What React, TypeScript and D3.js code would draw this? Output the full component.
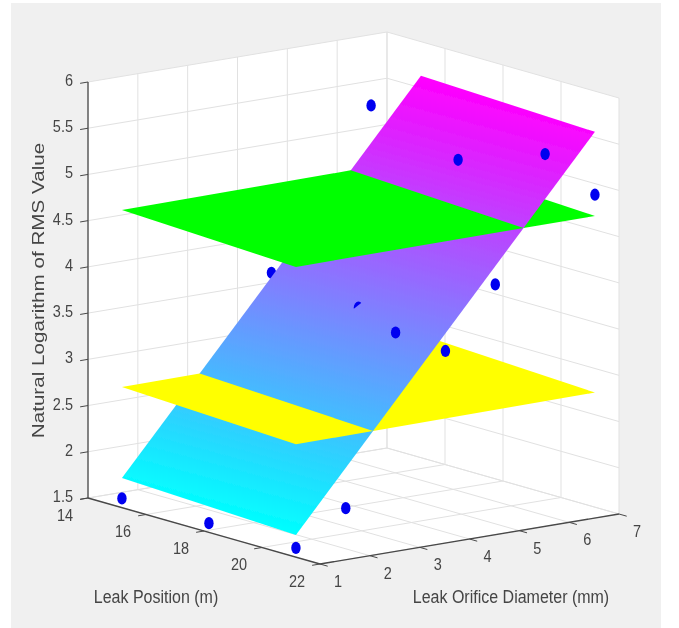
import * as d3 from "d3";

const xTicks = [14, 16, 18, 20, 22];
const yTicks = [1, 2, 3, 4, 5, 6, 7];
const zTicks = [1.5, 2, 2.5, 3, 3.5, 4, 4.5, 5, 5.5, 6];

// measured points: leak position, orifice diameter, ln(RMS)
const pointX = [15.17, 15.17, 15.17, 18.17, 18.17, 18.17, 21.17, 21.17, 21.17, 21.17, 21.17, 21.17, 21.17];
const pointY = [1, 4, 6, 1, 4, 6, 1, 2, 3, 4, 5, 6, 7];
const pointZ = [1.6, 3.77, 5.4, 1.6, 3.66, 5.08, 1.6, 1.94, 3.75, 3.46, 4.09, 5.41, 4.88];
const behindSurface = [false, true, false, false, true, false, false, false, false, false, false, false, false];

// fitted planes, corner heights: [x0y0, x1y0, x0y1, x1y1]
const planeX = [15.17, 21.17];
const planeY = [1, 7];
const fitZ = [1.82, 1.74, 5.63, 5.56];
const upperZ = [4.72, 4.64, 4.74, 4.65];
const lowerZ = [2.805, 2.72, 2.83, 2.74];

const xDomain: [number, number] = [14, 22];
const yDomain: [number, number] = [1, 7];
const zDomain: [number, number] = [1.5, 6];

// the axes box is an orthographic view, so each data axis maps linearly to screen
const originX = 88;
const originY = 498;
const xToLeft = d3.scaleLinear().domain(xDomain).range([0, 232]);
const xToTop = d3.scaleLinear().domain(xDomain).range([0, 66]);
const yToLeft = d3.scaleLinear().domain(yDomain).range([0, 299]);
const yToTop = d3.scaleLinear().domain(yDomain).range([0, -50]);
const zToTop = d3.scaleLinear().domain(zDomain).range([0, -416]);

type P = [number, number];

function project(x: number, y: number, z: number): P {
  return [originX + xToLeft(x) + yToLeft(y), originY + xToTop(x) + yToTop(y) + zToTop(z)];
}

function planeAt(c: number[]) {
  const tx = d3.scaleLinear().domain(planeX).range([0, 1]);
  const ty = d3.scaleLinear().domain(planeY).range([0, 1]);
  return (x: number, y: number) => {
    const a = tx(x);
    const b = ty(y);
    return (c[0] * (1 - a) + c[1] * a) * (1 - b) + (c[2] * (1 - a) + c[3] * a) * b;
  };
}

const fitPlane = planeAt(fitZ);
const upperPlane = planeAt(upperZ);
const lowerPlane = planeAt(lowerZ);

const planeCorners: P[] = [
  [planeX[0], planeY[0]],
  [planeX[1], planeY[0]],
  [planeX[1], planeY[1]],
  [planeX[0], planeY[1]],
];

// keep the part of the plane footprint where f >= 0
function clipFootprint(poly: P[], f: (x: number, y: number) => number): P[] {
  const out: P[] = [];
  poly.forEach((p, i) => {
    const q = poly[(i + 1) % poly.length];
    const fp = f(p[0], p[1]);
    const fq = f(q[0], q[1]);
    if (fp >= 0) out.push(p);
    if (fp >= 0 !== fq >= 0) {
      const t = fp / (fp - fq);
      out.push([p[0] + (q[0] - p[0]) * t, p[1] + (q[1] - p[1]) * t]);
    }
  });
  return out;
}

const outline = d3.line().curve(d3.curveLinearClosed);
const planePath = (poly: P[], plane: (x: number, y: number) => number) =>
  outline(poly.map(([x, y]) => project(x, y, plane(x, y)))) ?? "";

function gradientEnds() {
  const p0 = project(planeX[0], planeY[0], fitZ[0]);
  const px = project(planeX[1], planeY[0], fitZ[1]);
  const py = project(planeX[0], planeY[1], fitZ[2]);
  const zx = fitZ[1] - fitZ[0];
  const zy = fitZ[2] - fitZ[0];
  const ux = px[0] - p0[0], uy = px[1] - p0[1];
  const vx = py[0] - p0[0], vy = py[1] - p0[1];
  const det = ux * vy - uy * vx;
  const gx = (zx * vy - zy * uy) / det;
  const gy = (ux * zy - vx * zx) / det;
  const len2 = gx * gx + gy * gy;
  const zMin = d3.min(fitZ) as number;
  const zMax = d3.max(fitZ) as number;
  const start: P = [p0[0] + (gx * (zMin - fitZ[0])) / len2, p0[1] + (gy * (zMin - fitZ[0])) / len2];
  const end: P = [start[0] + (gx * (zMax - zMin)) / len2, start[1] + (gy * (zMax - zMin)) / len2];
  return { start, end };
}

const gridColor = "#e1e1e1";
const axisColor = "#484848";
const textColor = "#454545";
const font = "'Liberation Sans', Arial, sans-serif";
const markRx = 4.7;
const markRy = 6.1;

function GridLine({ a, b }: { a: P; b: P }) {
  return <line x1={a[0]} y1={a[1]} x2={b[0]} y2={b[1]} stroke={gridColor} strokeWidth={1} />;
}

function Dot({ i, clipPath }: { i: number; clipPath?: string }) {
  const [cx, cy] = project(pointX[i], pointY[i], pointZ[i]);
  return <ellipse cx={cx} cy={cy} rx={markRx} ry={markRy} fill="#0000f0" clipPath={clipPath} />;
}

// the source picture is stretched vertically, so text is too
function Label({ x, y, size, stretch, children }: { x: number; y: number; size: number; stretch: number; children: any }) {
  return (
    <text
      transform={`translate(${x},${y}) scale(1,${stretch})`}
      fontSize={size}
      textAnchor="middle"
      dominantBaseline="central"
    >
      {children}
    </text>
  );
}

export default function App() {
  const [x0, x1] = xDomain;
  const [y0, y1] = yDomain;
  const [z0, z1] = zDomain;
  const { start, end } = gradientEnds();
  const ids = d3.range(pointX.length);
  const sliver = project(pointX[4], pointY[4], pointZ[4]);

  const tickY = (x: number, z: number) => {
    const a = project(x, y0, z);
    const k = 8 / 304;
    return { a, b: [a[0] - yToLeft(y1) * k, a[1] - yToTop(y1) * k] as P };
  };
  const tickX = (y: number) => {
    const a = project(x1, y, z0);
    const k = 8 / 241;
    return { a, b: [a[0] + xToLeft(x1) * k, a[1] + xToTop(x1) * k] as P };
  };

  return (
    <svg
      width={679}
      height={628}
      style={{ position: "fixed", left: 0, top: 0, display: "block" }}
      fontFamily={font}
    >
      <defs>
        <linearGradient id="cool" gradientUnits="userSpaceOnUse" x1={start[0]} y1={start[1]} x2={end[0]} y2={end[1]}>
          <stop offset="0" stopColor={d3.rgb(0, 255, 255).formatHex()} />
          <stop offset="1" stopColor={d3.rgb(255, 0, 255).formatHex()} />
        </linearGradient>
        <clipPath id="sliver">
          <rect
            x={sliver[0] - 12}
            y={sliver[1] - 12}
            width={24}
            height={10}
            transform={`rotate(-38 ${sliver[0]} ${sliver[1]})`}
          />
        </clipPath>
        <filter id="soft" x="-5%" y="-5%" width="110%" height="110%">
          <feGaussianBlur stdDeviation={0.45} />
        </filter>
      </defs>

      <rect x={11} y={3} width={650} height={625} fill="#f0f0f0" />

      <g filter="url(#soft)">
        <path
          d={
            outline([
              project(x0, y0, z0),
              project(x0, y0, z1),
              project(x0, y1, z1),
              project(x1, y1, z1),
              project(x1, y1, z0),
              project(x1, y0, z0),
            ] as P[]) ?? ""
          }
          fill="#fff"
        />

        {/* grid on the two back walls and the floor */}
        {zTicks.map((z) => (
          <g key={z}>
            <GridLine a={project(x0, y0, z)} b={project(x0, y1, z)} />
            <GridLine a={project(x0, y1, z)} b={project(x1, y1, z)} />
          </g>
        ))}
        {yTicks.map((y) => (
          <g key={y}>
            <GridLine a={project(x0, y, z0)} b={project(x0, y, z1)} />
            <GridLine a={project(x0, y, z0)} b={project(x1, y, z0)} />
          </g>
        ))}
        {xTicks.map((x) => (
          <g key={x}>
            <GridLine a={project(x, y1, z0)} b={project(x, y1, z1)} />
            <GridLine a={project(x, y0, z0)} b={project(x, y1, z0)} />
          </g>
        ))}

        {/* axes */}
        {[
          [project(x0, y0, z0), project(x0, y0, z1)],
          [project(x0, y0, z0), project(x1, y0, z0)],
          [project(x1, y0, z0), project(x1, y1, z0)],
        ].map(([a, b], i) => (
          <line key={i} x1={a[0]} y1={a[1]} x2={b[0]} y2={b[1]} stroke={axisColor} strokeWidth={1.3} />
        ))}
        {zTicks.map((z) => {
          const { a, b } = tickY(x0, z);
          return <line key={z} x1={a[0]} y1={a[1]} x2={b[0]} y2={b[1]} stroke={axisColor} strokeWidth={1} />;
        })}
        {xTicks.map((x) => {
          const { a, b } = tickY(x, z0);
          return <line key={x} x1={a[0]} y1={a[1]} x2={b[0]} y2={b[1]} stroke={axisColor} strokeWidth={1} />;
        })}
        {yTicks.map((y) => {
          const { a, b } = tickX(y);
          return <line key={y} x1={a[0]} y1={a[1]} x2={b[0]} y2={b[1]} stroke={axisColor} strokeWidth={1} />;
        })}

        {/* painter's order: what sits under the fitted surface first */}
        {ids.filter((i) => behindSurface[i]).map((i) => <Dot key={i} i={i} />)}
        <path
          d={planePath(clipFootprint(planeCorners, (x, y) => fitPlane(x, y) - lowerPlane(x, y)), lowerPlane)}
          fill="#ffff00"
        />
        <path
          d={planePath(clipFootprint(planeCorners, (x, y) => fitPlane(x, y) - upperPlane(x, y)), upperPlane)}
          fill="#00ff00"
        />
        <path d={planePath(planeCorners, fitPlane)} fill="url(#cool)" />
        <path
          d={planePath(clipFootprint(planeCorners, (x, y) => lowerPlane(x, y) - fitPlane(x, y)), lowerPlane)}
          fill="#ffff00"
        />
        <path
          d={planePath(clipFootprint(planeCorners, (x, y) => upperPlane(x, y) - fitPlane(x, y)), upperPlane)}
          fill="#00ff00"
        />
        {ids.filter((i) => !behindSurface[i]).map((i) => <Dot key={i} i={i} />)}
        <Dot i={4} clipPath="url(#sliver)" />

        {/* text */}
        <g fill={textColor}>
          {zTicks.map((z) => {
            const [px, py] = project(x0, y0, z);
            return (
              <text
                key={z}
                transform={`translate(${px - 15},${py - 2}) scale(1,1.2)`}
                fontSize={14.5}
                textAnchor="end"
                dominantBaseline="central"
              >
                {z}
              </text>
            );
          })}
          {xTicks.map((x) => {
            const [px, py] = project(x, y0, z0);
            return (
              <Label key={x} x={px - 23} y={py + 17} size={14.5} stretch={1.2}>
                {x}
              </Label>
            );
          })}
          {yTicks.map((y) => {
            const [px, py] = project(x1, y, z0);
            return (
              <Label key={y} x={px + 18} y={py + 17} size={14.5} stretch={1.2}>
                {y}
              </Label>
            );
          })}
          <Label x={156} y={597} size={16} stretch={1.17}>
            Leak Position (m)
          </Label>
          <Label x={511} y={597} size={16} stretch={1.17}>
            Leak Orifice Diameter (mm)
          </Label>
          <text
            transform="translate(38,290.5) rotate(-90) scale(1.29,1)"
            textAnchor="middle"
            dominantBaseline="central"
            fontSize={16}
          >
            Natural Logarithm of RMS Value
          </text>
        </g>
      </g>
    </svg>
  );
}
